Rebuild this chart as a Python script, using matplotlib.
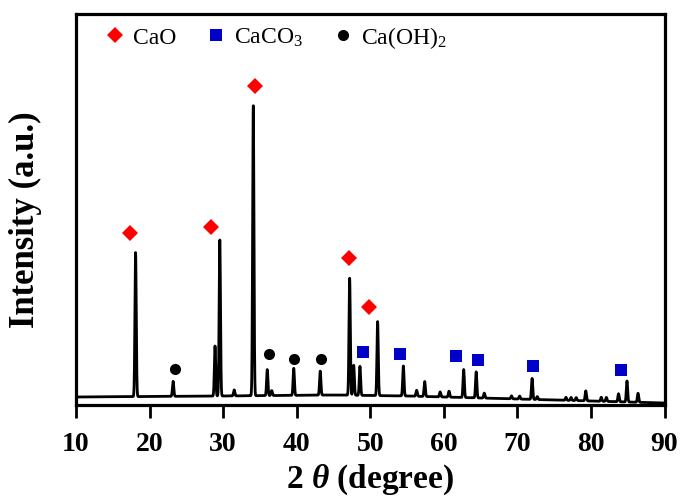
import numpy as np
import matplotlib
matplotlib.use("Agg")
import matplotlib.pyplot as plt

plt.rcParams['font.family'] = ['Liberation Serif', 'DejaVu Serif']
plt.rcParams['mathtext.fontset'] = 'custom'
plt.rcParams['mathtext.rm'] = 'Liberation Serif'
plt.rcParams['mathtext.it'] = 'Liberation Serif:italic:bold'
plt.rcParams['mathtext.bf'] = 'Liberation Serif:bold'

# ---- data (intensity in arbitrary units) ----
peak_pos = [18.1, 23.2, 28.9, 29.55, 31.5, 34.1, 36.0, 36.6, 39.6, 43.2,
            47.2, 47.75, 48.6, 51.0, 54.5, 56.3, 57.4, 59.5, 60.7, 62.7,
            64.4, 65.5, 69.2, 70.3, 72.0, 72.7, 76.6, 77.3, 78.0, 79.3,
            81.4, 82.1, 83.75, 84.9, 86.4]
peak_height = [144, 15, 50, 156, 6, 290, 26, 5, 27, 24,
               117, 30, 29, 74, 30, 6, 15, 5, 6, 28,
               26, 5, 3, 3, 21, 3, 3, 3, 3, 10,
               4, 4, 8, 21, 9]
bg_x = [10, 30, 45, 55, 60, 70, 80, 90]
bg_y = [8, 9, 10, 9, 8, 6, 4, 2]

cao_x = [17.38, 28.34, 34.31, 47.12, 49.84]
cao_y = [172, 178, 319, 147, 98]
caco3_x = [49.08, 54.0, 61.7, 64.64, 72.11, 84.02]
caco3_y = [53, 51, 49, 45, 39, 35]
caoh2_x = [23.49, 36.25, 39.7, 43.24]
caoh2_y = [36, 51, 46, 46]

xticks = [10, 20, 30, 40, 50, 60, 70, 80, 90]

# ---- pattern ----
x = np.linspace(10, 90, 8001)
y = np.interp(x, bg_x, bg_y)
for p, h in zip(peak_pos, peak_height):
    y = y + h * np.exp(-0.5 * ((x - p) / 0.09) ** 2)

fig = plt.figure(figsize=(6.8, 5.02), dpi=100)
ax = fig.add_axes([76/680, 1 - 406/502, (664.5-76)/680, (406-14.5)/502])

ax.plot(x, y, color='black', lw=2.0, zorder=2)
ax.plot(cao_x, cao_y, 'D', color='#ff0000', ms=8.5, mew=0, ls='none', label='CaO', zorder=3)
ax.plot(caco3_x, caco3_y, 's', color='#0000c8', ms=8.5, mew=0, ls='none', label='CaCO$_3$', zorder=3)
ax.plot(caoh2_x, caoh2_y, 'o', color='black', ms=8, mew=0, ls='none', label='Ca(OH)$_2$', zorder=3)

ax.set_xlim(10, 90)
ax.set_ylim(0, 391.5)
ax.set_xticks(xticks)
ax.set_yticks([])
ax.tick_params(axis='x', direction='out', length=9, width=2, labelsize=20, pad=10)
for lab in ax.get_xticklabels():
    lab.set_fontweight('bold')
for s in ax.spines.values():
    s.set_linewidth(2.3)

ax.set_xlabel(r'2 $\theta$ (degree)', fontsize=24, fontweight='bold', labelpad=4)
ax.set_ylabel('Intensity (a.u.)', fontsize=25, fontweight='bold')
ax.yaxis.set_label_coords(-0.058, 0.475)

leg = ax.legend(loc='upper left', bbox_to_anchor=(0.034, 0.997), ncol=3, frameon=False,
                fontsize=17, handlelength=0.8, handletextpad=0.35, columnspacing=1.3,
                borderaxespad=0)

fig.savefig('out.png', dpi=100)
